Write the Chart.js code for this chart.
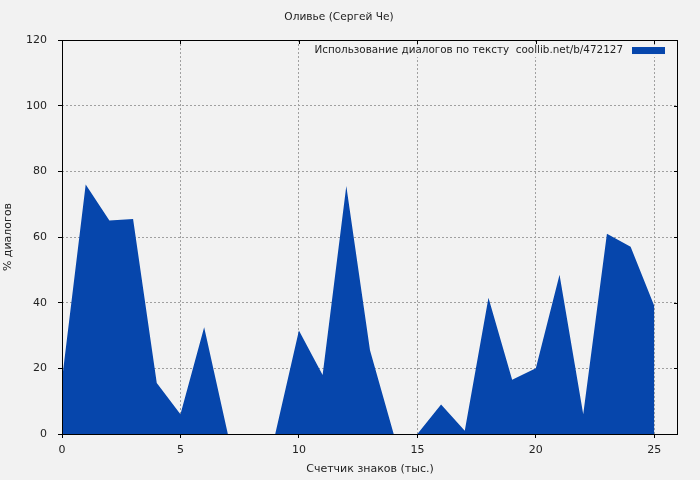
<!DOCTYPE html>
<html>
<head>
<meta charset="utf-8">
<script src="https://cdn.jsdelivr.net/npm/chart.js@4"></script>
<style>
html,body{margin:0;padding:0;background:#f2f2f2;}
#wrap{width:700px;height:480px;position:relative;}
</style>
</head>
<body>
<div id="wrap"><canvas id="c" width="700" height="480"></canvas></div>
<script>
const chartTitle = 'Оливье (Сергей Че)';
const seriesLabel = 'Использование диалогов по тексту  coollib.net/b/472127';
const xTitle = 'Счетчик знаков (тыс.)';
const yTitle = '% диалогов';
const charCounts = [0,1,2,3,4,5,6,7,8,9,10,11,12,13,14,15,16,17,18,19,20,21,22,23,24,25];
const dialogPct = [16.5,76,65,65.5,15.5,6,32.5,0,0,0,31.5,18,75.5,25.5,0,0,9,1,41.5,16.5,20,48.5,6,61,57,39];
const xTicks = [0,5,10,15,20,25];
const yTicks = [0,20,40,60,80,100,120];

const FONT = 'DejaVu Sans';
const fillColor = '#0646ac';
const legendFont = '10.4px "' + FONT + '"';

const frame = {
  id: 'frame',
  beforeDatasetsDraw(chart) {
    const ctx = chart.ctx;
    const a = chart.chartArea;
    ctx.save();
    ctx.font = legendFont;
    const w = ctx.measureText(chart.data.datasets[0].label).width;
    ctx.fillStyle = '#f2f2f2';
    ctx.fillRect(a.right - 55 - w - 4, a.top + 5, w + 55 + 2, 12);
    ctx.restore();
  },
  afterDatasetsDraw(chart) {
    const ctx = chart.ctx;
    const a = chart.chartArea;
    const xs = chart.scales.x, ys = chart.scales.y;
    ctx.save();
    // legend
    const ds = chart.data.datasets[0];
    ctx.font = legendFont;
    ctx.fillStyle = '#222';
    ctx.textAlign = 'right';
    ctx.textBaseline = 'middle';
    ctx.fillText(ds.label, a.right - 55, a.top + 10);
    ctx.fillStyle = ds.backgroundColor;
    ctx.fillRect(a.right - 46, a.top + 7, 33, 7);
    // frame
    ctx.strokeStyle = '#000';
    ctx.lineWidth = 1;
    ctx.strokeRect(Math.round(a.left) + 0.5, Math.round(a.top) + 0.5, Math.round(a.right - a.left) - 1, Math.round(a.bottom - a.top));
    ctx.beginPath();
    xs.ticks.forEach(t => {
      const px = Math.round(xs.getPixelForValue(t.value)) + 0.5;
      ctx.moveTo(px, a.top); ctx.lineTo(px, a.top + 4);
    });
    ys.ticks.forEach(t => {
      const py = Math.round(ys.getPixelForValue(t.value)) + 0.5;
      ctx.moveTo(a.right, py); ctx.lineTo(a.right - 4, py);
    });
    ctx.stroke();
    ctx.restore();
  }
};

new Chart(document.getElementById('c'), {
  type: 'line',
  data: {
    datasets: [{
      label: seriesLabel,
      data: charCounts.map((x, i) => ({x: x, y: dialogPct[i]})),
      borderColor: fillColor,
      backgroundColor: fillColor,
      borderWidth: 0,
      pointRadius: 0,
      tension: 0,
      fill: 'origin'
    }]
  },
  options: {
    responsive: false,
    animation: false,
    layout: {padding: {left: 0, right: 22, top: 0, bottom: 0}},
    plugins: {
      title: {
        display: true,
        text: chartTitle,
        color: '#222',
        font: {family: FONT, size: 10.6, weight: 'normal'},
        padding: {top: 11, bottom: 16.3}
      },
      legend: {display: false},
      tooltip: {enabled: false}
    },
    scales: {
      x: {
        type: 'linear',
        min: 0,
        max: 26,
        afterBuildTicks: s => { s.ticks = xTicks.map(v => ({value: v})); },
        afterFit: s => { s.height = 46; },
        ticks: {color: '#222', font: {family: FONT, size: 11}, padding: 6, maxRotation: 0},
        grid: {color: '#a0a0a0', lineWidth: 1, tickLength: 4, tickColor: '#000', tickBorderDash: []},
        border: {display: false, dash: [2, 2]},
        title: {display: true, text: xTitle, color: '#222', font: {family: FONT, size: 11}, padding: {top: 0, bottom: 4}}
      },
      y: {
        min: 0,
        max: 120,
        afterBuildTicks: s => { s.ticks = yTicks.map(v => ({value: v})); },
        afterFit: s => { s.width = 62; },
        ticks: {color: '#222', font: {family: FONT, size: 11}, padding: 11},
        grid: {color: '#a0a0a0', lineWidth: 1, tickLength: 4, tickColor: '#000', tickBorderDash: []},
        border: {display: false, dash: [2, 2]},
        title: {display: true, text: yTitle, color: '#222', font: {family: FONT, size: 11}, padding: {top: 2, bottom: 0}}
      }
    }
  },
  plugins: [frame]
});
</script>
</body>
</html>
